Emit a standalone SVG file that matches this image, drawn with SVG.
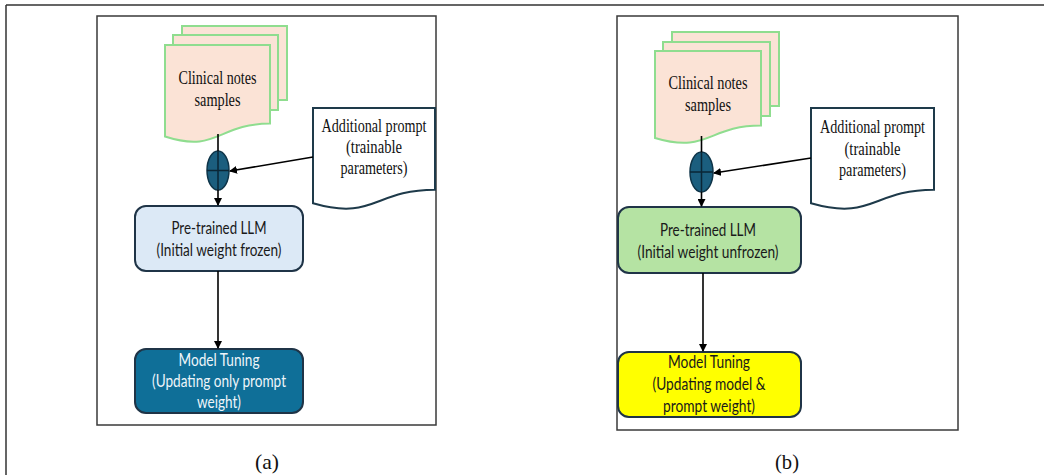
<svg xmlns="http://www.w3.org/2000/svg" width="1044" height="475" viewBox="0 0 1044 475">
<style>
.frame{fill:none;stroke:#3a3a3a;stroke-width:1.5}
.page{fill:#fbe3d6;stroke:#8fdd8f;stroke-width:2}
.prompt{fill:#ffffff;stroke:#1e3a4a;stroke-width:2}
.conn{stroke:#000;stroke-width:1.6;fill:none}
.ell{fill:#1b5e7e;stroke:#0e3448;stroke-width:1.5}
.cross{stroke:#0a2636;stroke-width:1.5}
.box{stroke:#1f3447;stroke-width:2}
.serif{font-family:"Liberation Serif","Times New Roman",serif;font-size:19.5px;fill:#111}
.sans{font-family:Lato,"Open Sans","Liberation Sans",sans-serif;font-size:17.5px;fill:#1a1a1a}
.wt{fill:#eef5fa}
.cap{font-family:"Liberation Serif","Times New Roman",serif;font-size:22px;fill:#111}
</style>
<defs>
<marker id="ah" markerWidth="8" markerHeight="8" refX="7" refY="4" orient="auto" markerUnits="userSpaceOnUse">
<path d="M0,0 L8,4 L0,8 Z" fill="#000"/>
</marker>
</defs>

<!-- outer frame -->
<g id="outer">
<path d="M6,5 H1044 M6,5 V475" stroke="#333" stroke-width="1.5" fill="none"/>
</g>

<!-- panel (a) -->
<g id="panel-a">
<rect class="frame" x="97" y="16" width="339" height="409"/>
</g>
<g id="docs-a">
<rect class="page" x="182" y="26" width="105" height="74"/>
<rect class="page" x="173" y="35" width="105" height="75"/>
<path class="page" d="M165,45 H270 V123.6 C217.5,123.6 217.5,153.5 165,136.5 Z"/>
<text class="serif" x="217.5" y="84" text-anchor="middle" textLength="78" lengthAdjust="spacingAndGlyphs">Clinical notes</text>
<text class="serif" x="217.5" y="106" text-anchor="middle" textLength="46" lengthAdjust="spacingAndGlyphs">samples</text>
</g>
<g id="prompt-a">
<path class="prompt" d="M313,108 H435 V189.8 C374,189.8 374,220.9 313,203.3 Z"/>
<text class="serif" x="374" y="132" text-anchor="middle" textLength="105" lengthAdjust="spacingAndGlyphs">Additional prompt</text>
<text class="serif" x="374" y="153" text-anchor="middle" textLength="56" lengthAdjust="spacingAndGlyphs">(trainable</text>
<text class="serif" x="374" y="174" text-anchor="middle" textLength="67" lengthAdjust="spacingAndGlyphs">parameters)</text>
</g>
<g id="plus-a">
<ellipse class="ell" cx="218" cy="170.5" rx="11" ry="19.5"/>
<path class="cross" d="M218,151 V190 M207,170.5 H229"/>
</g>
<g id="llm-a">
<rect class="box" x="135" y="206" width="168" height="65" rx="11" fill="#dce9f6"/>
<text class="sans" x="219" y="234" text-anchor="middle" textLength="95" lengthAdjust="spacingAndGlyphs">Pre-trained LLM</text>
<text class="sans" x="219" y="256" text-anchor="middle" textLength="125" lengthAdjust="spacingAndGlyphs">(Initial weight frozen)</text>
</g>
<g id="tune-a">
<rect class="box" x="135" y="349" width="168" height="64" rx="11" fill="#0f6f98"/>
<text class="sans wt" x="219" y="366" text-anchor="middle" textLength="81" lengthAdjust="spacingAndGlyphs">Model Tuning</text>
<text class="sans wt" x="219" y="387" text-anchor="middle" textLength="134" lengthAdjust="spacingAndGlyphs">(Updating only prompt</text>
<text class="sans wt" x="219" y="408" text-anchor="middle" textLength="44" lengthAdjust="spacingAndGlyphs">weight)</text>
</g>

<!-- panel (b) -->
<g id="panel-b">
<rect class="frame" x="617" y="16" width="341" height="414"/>
</g>
<g id="docs-b">
<rect class="page" x="672" y="32" width="107" height="74"/>
<rect class="page" x="663" y="42" width="107" height="74"/>
<path class="page" d="M655,51 H761 V125.6 C708,125.6 708,154 655,138 Z"/>
<text class="serif" x="708" y="89" text-anchor="middle" textLength="79" lengthAdjust="spacingAndGlyphs">Clinical notes</text>
<text class="serif" x="708" y="111" text-anchor="middle" textLength="46" lengthAdjust="spacingAndGlyphs">samples</text>
</g>
<g id="prompt-b">
<path class="prompt" d="M811,108 H934 V189.8 C872.5,189.8 872.5,220.9 811,203.3 Z"/>
<text class="serif" x="872.5" y="133" text-anchor="middle" textLength="105" lengthAdjust="spacingAndGlyphs">Additional prompt</text>
<text class="serif" x="872.5" y="155" text-anchor="middle" textLength="56" lengthAdjust="spacingAndGlyphs">(trainable</text>
<text class="serif" x="872.5" y="176" text-anchor="middle" textLength="67" lengthAdjust="spacingAndGlyphs">parameters)</text>
</g>
<g id="plus-b">
<ellipse class="ell" cx="701.5" cy="172" rx="11.5" ry="20"/>
<path class="cross" d="M701.5,152 V192 M690,172 H713"/>
</g>
<g id="llm-b">
<rect class="box" x="618" y="207" width="183" height="66" rx="11" fill="#b5e3a3"/>
<text class="sans" x="708" y="236" text-anchor="middle" textLength="96" lengthAdjust="spacingAndGlyphs">Pre-trained LLM</text>
<text class="sans" x="708" y="258" text-anchor="middle" textLength="141" lengthAdjust="spacingAndGlyphs">(Initial weight unfrozen)</text>
</g>
<g id="tune-b">
<rect class="box" x="618" y="352" width="183" height="65" rx="11" fill="#ffff00"/>
<text class="sans" x="709" y="368" text-anchor="middle" textLength="82" lengthAdjust="spacingAndGlyphs">Model Tuning</text>
<text class="sans" x="709" y="390" text-anchor="middle" textLength="113" lengthAdjust="spacingAndGlyphs">(Updating model &amp;</text>
<text class="sans" x="709" y="412" text-anchor="middle" textLength="92" lengthAdjust="spacingAndGlyphs">prompt weight)</text>
</g>

<!-- connectors -->
<g id="connectors">
<line class="conn" x1="218" y1="134" x2="218" y2="151"/>
<line class="conn" x1="218" y1="190" x2="218" y2="205" marker-end="url(#ah)"/>
<line class="conn" x1="313" y1="157" x2="230" y2="171" marker-end="url(#ah)"/>
<line class="conn" x1="218" y1="271" x2="218" y2="348" marker-end="url(#ah)"/>
<line class="conn" x1="701.5" y1="136" x2="701.5" y2="152"/>
<line class="conn" x1="701.5" y1="192" x2="701.5" y2="206" marker-end="url(#ah)"/>
<line class="conn" x1="811" y1="158" x2="714" y2="173" marker-end="url(#ah)"/>
<line class="conn" x1="703" y1="273" x2="703" y2="351" marker-end="url(#ah)"/>
</g>

<!-- captions -->
<g id="captions">
<text class="cap" x="267" y="469" text-anchor="middle" textLength="24" lengthAdjust="spacingAndGlyphs">(a)</text>
<text class="cap" x="787" y="469" text-anchor="middle" textLength="24" lengthAdjust="spacingAndGlyphs">(b)</text>
</g>
</svg>
